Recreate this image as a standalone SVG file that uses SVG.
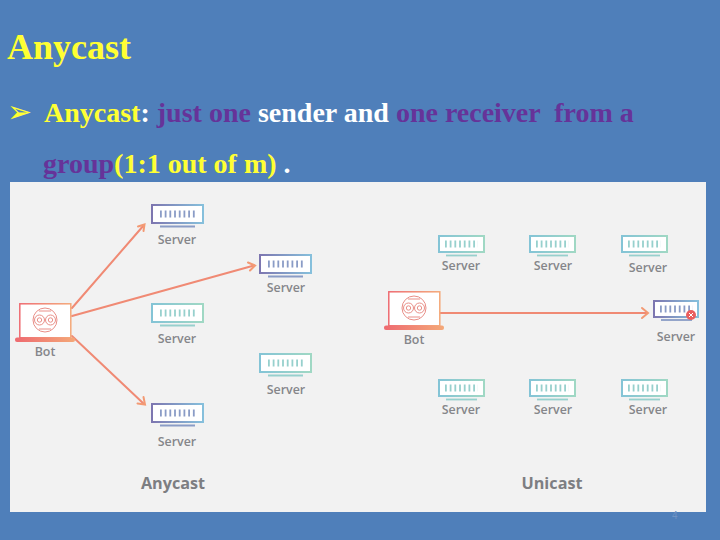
<svg xmlns="http://www.w3.org/2000/svg" width="720" height="540" viewBox="0 0 720 540">
<style>
.ser{font-family:"Liberation Serif","Times New Roman",serif;font-weight:700}
.y{fill:#ffff33}.p{fill:#663399}.w{fill:#ffffff}
.lbl{font-family:"Open Sans","Noto Sans",sans-serif;font-weight:600;font-size:12.4px;fill:#85868a;text-anchor:middle}
.big{font-family:"Open Sans","Noto Sans",sans-serif;font-weight:700;font-size:16.200px;fill:#7d7e82;text-anchor:middle}
.conn{fill:none;stroke-width:2;stroke-linecap:round}
.box{fill:#ffffff;stroke-width:2}
.bars{fill:none;stroke-width:7;stroke-dasharray:1.800 2.900}
.sp{stroke:#8a9cc6}.st{stroke:#97d0cd}
.stand{fill:none;stroke-width:1.800}
</style>
<defs>
<linearGradient id="gPurple" x1="0" y1="0" x2="1" y2="0"><stop offset="0" stop-color="#7d76b0"/><stop offset="1" stop-color="#86c0dc"/></linearGradient>
<linearGradient id="gTeal" x1="0" y1="0" x2="1" y2="0"><stop offset="0" stop-color="#84c4d6"/><stop offset="1" stop-color="#a0d8c4"/></linearGradient>
<linearGradient id="gBot" x1="0" y1="0" x2="1" y2="0"><stop offset="0" stop-color="#ee6a70"/><stop offset="1" stop-color="#f4a878"/></linearGradient>
<g id="botIcon">
<rect x="0.800" y="0.800" width="51" height="34" fill="#ffffff" stroke="url(#gBot)" stroke-width="1.500"/>
<rect x="-4" y="34.500" width="60" height="4.500" rx="2" fill="url(#gBot)"/>
<g fill="none" stroke="#e98f88" stroke-width="1">
<circle cx="26" cy="17" r="12"/>
<circle cx="20.500" cy="17" r="5"/>
<circle cx="31.500" cy="17" r="5"/>
<circle cx="20.500" cy="17" r="2.200"/>
<circle cx="31.500" cy="17" r="2.200"/>
<path d="M20 8H32M20 26H32"/>
</g>
</g>
</defs>
<rect x="0" y="0" width="720" height="540" fill="#4f7fba"/>
<text id="title" class="ser y" x="7" y="59" font-size="36">Anycast</text>
<text class="y" x="7" y="122" font-size="30" font-family="DejaVu Sans,sans-serif">➢</text>
<text class="ser" x="44" y="122" font-size="28" xml:space="preserve"><tspan class="y">Anycast</tspan><tspan class="w">: </tspan><tspan class="p">just one </tspan><tspan class="w">sender and </tspan><tspan class="p">one receiver  from a</tspan></text>
<text class="ser" x="43" y="173" font-size="28" xml:space="preserve"><tspan class="p">group</tspan><tspan class="y">(1:1 out of m)</tspan><tspan class="w"> .</tspan></text>
<rect id="panel" x="10" y="182" width="696" height="330" fill="#f2f2f2"/>
<text x="672" y="519" font-family="Liberation Sans,sans-serif" font-size="10" fill="#6f93c4">4</text>

<g id="connectors">
<g class="conn">
<path d="M72 308L144 225" stroke="#f08a74"/>
<path d="M138 226.500L144.500 224.500L143.500 231" stroke="#f39a74"/>
<path d="M72 316L254 265.500" stroke="#f08a74"/>
<path d="M248 262.500L255 265.500L250 270.500" stroke="#f39a74"/>
<path d="M72 336L144 404" stroke="#f08a74"/>
<path d="M143.500 397L145 404.500L137.500 403.500" stroke="#f39a74"/>
<path d="M440 313H647" stroke="#f08a74"/>
<path d="M642 308L648 313L642 318" stroke="#f39a74"/>
</g>
</g>

<g id="bot-left"><use href="#botIcon" x="19" y="303"/><text class="lbl" x="45" y="356">Bot</text></g>
<g id="bot-right"><use href="#botIcon" x="388" y="291"/><text class="lbl" x="414" y="344">Bot</text></g>

<g id="any-server-1"><rect class="box" x="152" y="205" width="51" height="18" stroke="url(#gPurple)"/><path class="bars sp" d="M160 214H196"/><path class="stand sp" d="M160 226.500H195"/><text class="lbl" x="177" y="244">Server</text></g>
<g id="any-server-2"><rect class="box" x="260" y="255" width="51" height="18" stroke="url(#gPurple)"/><path class="bars sp" d="M268 264H304"/><path class="stand sp" d="M268 276.500H303"/><text class="lbl" x="286" y="292">Server</text></g>
<g id="any-server-3"><rect class="box" x="152" y="304" width="51" height="18" stroke="url(#gTeal)"/><path class="bars st" d="M160 313H196"/><path class="stand st" d="M160 325.500H195"/><text class="lbl" x="177" y="343">Server</text></g>
<g id="any-server-4"><rect class="box" x="260" y="354" width="51" height="18" stroke="url(#gTeal)"/><path class="bars st" d="M268 363H304"/><path class="stand st" d="M268 375.500H303"/><text class="lbl" x="286" y="394">Server</text></g>
<g id="any-server-5"><rect class="box" x="152" y="404" width="51" height="18" stroke="url(#gPurple)"/><path class="bars sp" d="M160 413H196"/><path class="stand sp" d="M160 425.500H195"/><text class="lbl" x="177" y="446">Server</text></g>
<text class="big" x="173" y="489">Anycast</text>

<g id="uni-server-1"><rect class="box" x="439" y="236" width="45" height="16" stroke="url(#gTeal)"/><path class="bars st" d="M445 244H478"/><path class="stand st" d="M446 255.500H477"/><text class="lbl" x="461" y="270">Server</text></g>
<g id="uni-server-2"><rect class="box" x="530" y="236" width="45" height="16" stroke="url(#gTeal)"/><path class="bars st" d="M536 244H569"/><path class="stand st" d="M537 255.500H568"/><text class="lbl" x="553" y="270">Server</text></g>
<g id="uni-server-3"><rect class="box" x="622" y="236" width="45" height="16" stroke="url(#gTeal)"/><path class="bars st" d="M628 244H661"/><path class="stand st" d="M629 255.500H660"/><text class="lbl" x="648" y="272">Server</text></g>
<g id="uni-server-4"><rect class="box" x="654" y="301" width="44" height="16" stroke="url(#gPurple)"/><path class="bars sp" d="M660 309H693"/><path class="stand sp" d="M661 320H692"/><circle cx="691" cy="315" r="5" fill="#ea5f5f"/><path d="M689 313L693 317M693 313L689 317" stroke="#ffffff" stroke-width="1" fill="none"/><text class="lbl" x="676" y="341">Server</text></g>
<g id="uni-server-5"><rect class="box" x="439" y="380" width="45" height="16" stroke="url(#gTeal)"/><path class="bars st" d="M445 388H478"/><path class="stand st" d="M446 399.500H477"/><text class="lbl" x="461" y="414">Server</text></g>
<g id="uni-server-6"><rect class="box" x="530" y="380" width="45" height="16" stroke="url(#gTeal)"/><path class="bars st" d="M536 388H569"/><path class="stand st" d="M537 399.500H568"/><text class="lbl" x="553" y="414">Server</text></g>
<g id="uni-server-7"><rect class="box" x="622" y="380" width="45" height="16" stroke="url(#gTeal)"/><path class="bars st" d="M628 388H661"/><path class="stand st" d="M629 399.500H660"/><text class="lbl" x="648" y="414">Server</text></g>
<text class="big" x="552" y="489">Unicast</text>
</svg>
